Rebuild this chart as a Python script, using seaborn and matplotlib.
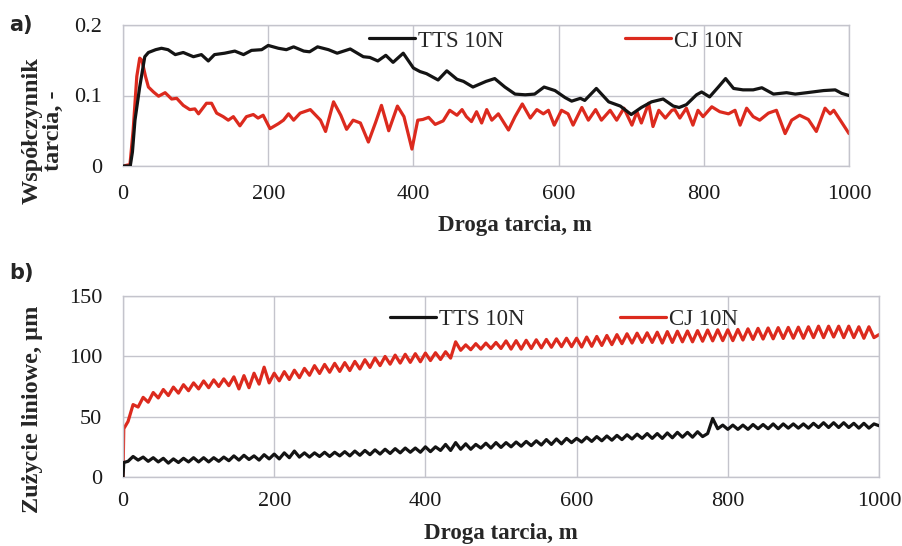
import numpy as np
import pandas as pd
import matplotlib
matplotlib.use("Agg")
import matplotlib.pyplot as plt
import seaborn as sns

# ---------------- data: (a) coefficient of friction ----------------
tts_dist = [0, 10, 13, 16.5, 23, 30, 35, 45, 53, 62, 72, 83, 97, 108, 117.5, 126, 140, 154,
            166, 177, 191, 200, 214, 225, 235, 249, 257, 268, 283, 295, 313, 331, 340, 351,
            362, 372, 386, 400, 409, 418, 434, 446, 460, 469, 482, 500, 512, 526, 540, 554,
            567, 580, 595, 609, 618, 630, 636, 652, 669, 685, 700, 714, 728, 744, 758, 766,
            776, 790, 797, 808, 820, 830, 841, 854, 868, 880, 896, 914, 926, 942, 965, 981,
            990, 1000]
tts_cof = [0, 0.0, 0.02, 0.065, 0.112, 0.155, 0.161, 0.165, 0.167, 0.165, 0.158, 0.161, 0.155,
           0.158, 0.149, 0.158, 0.160, 0.163, 0.158, 0.164, 0.165, 0.171, 0.167, 0.165, 0.169,
           0.163, 0.162, 0.169, 0.165, 0.160, 0.166, 0.155, 0.154, 0.149, 0.157, 0.147, 0.160,
           0.139, 0.134, 0.131, 0.122, 0.135, 0.123, 0.120, 0.112, 0.120, 0.124, 0.112, 0.102,
           0.101, 0.102, 0.112, 0.107, 0.097, 0.092, 0.096, 0.093, 0.110, 0.091, 0.085, 0.073,
           0.083, 0.091, 0.095, 0.085, 0.083, 0.087, 0.101, 0.105, 0.098, 0.112, 0.124, 0.110,
           0.108, 0.108, 0.111, 0.102, 0.104, 0.102, 0.104, 0.107, 0.108, 0.103, 0.100]

cj_dist = [0, 9.6, 14, 19, 23, 26, 31, 35, 42, 49, 58, 67, 74, 83, 92, 99, 104, 115, 122, 129,
           138, 145, 152, 161, 170, 179.5, 186, 193, 202.5, 214, 221, 228, 235, 244, 258, 272,
           279, 290, 300, 308, 317, 327, 338, 348, 356, 366, 378, 387, 398, 406, 413, 421, 430,
           441, 450, 460, 467, 473, 480, 487, 494, 501, 508, 517, 531, 540, 550, 561, 570, 579,
           586, 594, 604, 613, 620, 632, 641, 651, 659, 671, 680, 690, 701, 708, 714, 724, 730,
           738, 747, 756, 760, 767, 776, 785, 792, 799, 811, 822, 834, 843, 850, 859, 868, 877,
           889, 900, 912, 921, 932, 944, 955, 967, 974, 979, 988, 1000]
cj_cof = [0, 0.002, 0.051, 0.127, 0.153, 0.150, 0.127, 0.112, 0.105, 0.099, 0.104, 0.095, 0.096,
          0.086, 0.080, 0.081, 0.074, 0.089, 0.089, 0.075, 0.070, 0.065, 0.070, 0.057, 0.070,
          0.073, 0.068, 0.072, 0.053, 0.060, 0.065, 0.074, 0.065, 0.075, 0.080, 0.065, 0.049,
          0.091, 0.072, 0.052, 0.065, 0.061, 0.034, 0.062, 0.086, 0.050, 0.085, 0.070, 0.024,
          0.065, 0.066, 0.069, 0.059, 0.064, 0.079, 0.072, 0.080, 0.070, 0.063, 0.077, 0.061,
          0.080, 0.065, 0.074, 0.051, 0.070, 0.088, 0.068, 0.080, 0.074, 0.079, 0.058, 0.079,
          0.074, 0.058, 0.083, 0.065, 0.080, 0.065, 0.079, 0.065, 0.082, 0.058, 0.077, 0.061,
          0.089, 0.056, 0.079, 0.068, 0.079, 0.080, 0.068, 0.082, 0.058, 0.079, 0.070, 0.084,
          0.077, 0.074, 0.079, 0.058, 0.082, 0.070, 0.065, 0.075, 0.079, 0.046, 0.065, 0.072,
          0.066, 0.049, 0.082, 0.074, 0.079, 0.065, 0.046]

# ---------------- data: (b) linear wear, µm (samples every ~6.7 m) ----------------
wear_tts = [0, 12,
            13, 17, 14, 16.5, 13, 16, 12.5, 15.5, 11.5, 15, 12, 15.5, 12.5, 16, 12.5,
            16, 12.5, 16, 13, 16.5, 13.5, 17.5, 14, 18, 14.5, 17.5, 14, 18.5, 15, 19,
            15, 20, 16, 21.5, 16.5, 20, 16.5, 20, 17, 20.5, 17, 20.5, 17.5, 21, 17.5,
            21.5, 18, 22, 18.5, 22.5, 19, 23, 19.5, 23.5, 20, 24, 20.5, 24, 20.5, 25,
            21, 25, 22, 27, 22, 28.5, 23, 27.5, 23, 27, 24, 28, 24, 28.5, 24.5,
            28.5, 25, 29, 25.5, 29.5, 26, 30, 26.5, 31, 27, 31.5, 27.5, 32, 28.5, 32,
            29, 33, 29.5, 33.5, 30, 34, 30.5, 34.5, 31, 35, 31.5, 35.5, 32, 36, 32,
            36, 32, 36.5, 32.5, 37, 33, 37, 33, 37.5, 33.5, 36, 48.5, 40, 43, 39.5,
            43, 39.5, 43, 39.5, 43.5, 40, 43.5, 40, 44, 40, 44, 40.5, 44, 40.5, 44,
            40.5, 44.5, 41, 45, 41, 45, 41, 45, 41, 44.5, 40.5, 44.5, 40.5, 44, 42.5]
wear_cj = [0, 40,
           46, 60, 58, 66, 62, 70, 65.5, 72.5, 67.5, 74.5, 69.5, 76.5, 71.5, 78, 73,
           79.6, 74, 80.5, 75, 81.3, 75.7, 83, 73, 84, 74, 86, 77, 91, 78, 86,
           79.7, 87.3, 80.8, 88.5, 82.3, 90, 84.3, 92.3, 85.8, 93.3, 86.8, 94.2, 87.5, 94.8, 88.2,
           95.8, 89.5, 97.2, 90.8, 98.7, 92.3, 99.9, 93.5, 101, 94.4, 101.7, 95, 102.2, 95.5, 102.7,
           96.5, 103, 97.4, 103.8, 98.5, 112, 105, 109.5, 105.5, 110.5, 106, 111, 106.5, 111.5, 106.5,
           112.8, 106, 113, 106, 113.3, 106.5, 113.7, 107, 114, 107.5, 114.5, 108, 115, 108, 115,
           107.7, 116, 108.3, 116.5, 109, 117.3, 109.7, 118, 110.5, 118.7, 111, 119.2, 111.5, 119.5, 111.5,
           120, 111, 120.5, 111.5, 120.8, 112, 121, 112, 121.3, 112.5, 121.8, 112.8, 122, 113, 122,
           113, 122.3, 113.5, 122.8, 114, 123.2, 114.3, 123.5, 114.5, 123.8, 114.8, 124, 115, 124.2, 115,
           124.5, 115.5, 125, 115.5, 125, 116, 125, 115.5, 125, 115.5, 124.5, 115, 124.5, 115.5, 118]

xticks = [0, 200, 400, 600, 800, 1000]
yticks_a = [0, 0.1, 0.2]
yticks_a_labels = ["0", "0.1", "0.2"]
yticks_b = [0, 50, 100, 150]

labels = ["TTS 10N", "CJ 10N"]
colors = ["#141414", "#dc2a1e"]

# ---------------- build tables ----------------
wear_x_tts = np.r_[0.0, 1.0, np.linspace(1000 / 150, 1000, len(wear_tts) - 2)]
wear_x_cj = np.r_[0.0, 1.0, np.linspace(1000 / 150, 1000, len(wear_cj) - 2)]

df_a = pd.concat([
    pd.DataFrame({"d": tts_dist, "v": tts_cof, "s": labels[0]}),
    pd.DataFrame({"d": cj_dist, "v": cj_cof, "s": labels[1]}),
])
df_b = pd.concat([
    pd.DataFrame({"d": wear_x_tts, "v": wear_tts, "s": labels[0]}),
    pd.DataFrame({"d": wear_x_cj, "v": wear_cj, "s": labels[1]}),
])

sns.set_theme(style="white")
plt.rcParams["font.family"] = ["Liberation Serif", "DejaVu Serif"]

W, H = 903, 546
fig = plt.figure(figsize=(W / 100, H / 100), dpi=100)

def box(l, t, r, b):
    return [l / W, 1 - b / H, (r - l) / W, (b - t) / H]

ax1 = fig.add_axes(box(123, 25, 849, 166))
ax2 = fig.add_axes(box(123, 296, 879, 477))

grid_c = "#c4c4cc"
tick_fs = 16
xlab_fs = 16.5
ylab_fs = 17.5
leg_fs = 16.5

for ax, df in [(ax1, df_a), (ax2, df_b)]:
    for i, lab in enumerate(labels):
        sub = df[df["s"] == lab]
        sns.lineplot(data=sub, x="d", y="v", ax=ax, color=colors[i], linewidth=2.3,
                     label=lab, sort=False, estimator=None, zorder=3 if i == 0 else 2)
    ax.set_xlim(0, 1000)
    ax.set_xticks(xticks)
    ax.grid(True, color=grid_c, linewidth=1.0)
    ax.set_axisbelow(True)
    for sp in ax.spines.values():
        sp.set_color(grid_c)
        sp.set_linewidth(1.0)
    ax.tick_params(axis="both", length=0, labelsize=tick_fs, colors="#1a1a1a")

ax1.set_ylim(0, 0.2)
ax1.set_yticks(yticks_a)
ax1.set_yticklabels(yticks_a_labels)
ax2.set_ylim(0, 150)
ax2.set_yticks(yticks_b)
ax1.tick_params(axis="y", pad=15)
ax1.tick_params(axis="x", pad=14)
ax2.tick_params(axis="y", pad=15)
ax2.tick_params(axis="x", pad=11)

ax1.set_xlabel("Droga tarcia, m", fontsize=xlab_fs, fontweight="bold")
ax1.xaxis.set_label_coords((515 - 123) / 726, (166 - 215) / 141)
ax1.set_ylabel("Współczynnik\ntarcia, -", fontsize=ylab_fs, fontweight="bold", linespacing=1.0)
ax1.yaxis.set_label_coords((64 - 123) / 726, (166 - 131) / 141)

ax2.set_xlabel("Droga tarcia, m", fontsize=xlab_fs, fontweight="bold")
ax2.xaxis.set_label_coords((501 - 123) / 756, (477 - 523) / 181)
ax2.set_ylabel("Zużycie liniowe, µm", fontsize=ylab_fs, fontweight="bold")
ax2.yaxis.set_label_coords((43 - 123) / 756, (477 - 409) / 181)

ax1.legend(loc="center left", bbox_to_anchor=(369 / W, 1 - 41 / H), bbox_transform=fig.transFigure,
           ncol=2, frameon=False, fontsize=leg_fs, handlelength=2.0, handletextpad=0.12,
           columnspacing=5.32, borderpad=0, borderaxespad=0)
ax2.legend(loc="center left", bbox_to_anchor=(390 / W, 1 - 319.5 / H), bbox_transform=fig.transFigure,
           ncol=2, frameon=False, fontsize=leg_fs, handlelength=2.0, handletextpad=0.12,
           columnspacing=4.2, borderpad=0, borderaxespad=0)

fig.text(9 / W, 1 - 25 / H, "a)", fontsize=15, fontweight="bold", family="DejaVu Sans", va="center")
fig.text(9 / W, 1 - 273 / H, "b)", fontsize=15, fontweight="bold", family="DejaVu Sans", va="center")

fig.savefig("out.png", dpi=100)
